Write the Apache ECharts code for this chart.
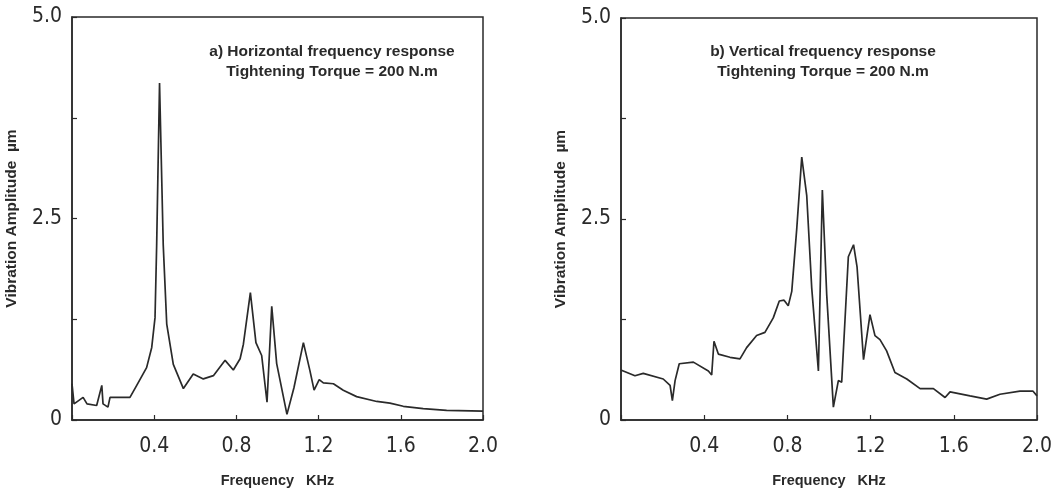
<!DOCTYPE html>
<html>
<head>
<meta charset="utf-8">
<script src="https://cdn.jsdelivr.net/npm/echarts@6/dist/echarts.min.js"></script>
<style>
html,body{margin:0;padding:0;background:#fff;}
#chart{width:1057px;height:493px;}
</style>
</head>
<body>
<div id="chart"></div>
<script>
// ---- data ----
var leftFreq = [0.0, 0.01, 0.054, 0.073, 0.12, 0.145, 0.151, 0.175, 0.185, 0.282, 0.315, 0.363, 0.388, 0.404, 0.412, 0.426, 0.444, 0.461, 0.493, 0.542, 0.590, 0.639, 0.688, 0.745, 0.785, 0.818, 0.834, 0.868, 0.895, 0.923, 0.949, 0.972, 0.996, 1.046, 1.080, 1.126, 1.158, 1.178, 1.203, 1.223, 1.272, 1.320, 1.385, 1.483, 1.547, 1.612, 1.709, 1.823, 2.0];
var leftAmp  = [0.45, 0.2, 0.28, 0.2, 0.18, 0.43, 0.2, 0.16, 0.28, 0.28, 0.43, 0.65, 0.9, 1.27, 2.17, 4.18, 2.17, 1.19, 0.69, 0.39, 0.57, 0.51, 0.55, 0.74, 0.62, 0.76, 0.94, 1.58, 0.96, 0.8, 0.22, 1.41, 0.7, 0.07, 0.4, 0.96, 0.61, 0.37, 0.50, 0.46, 0.45, 0.37, 0.29, 0.23, 0.21, 0.17, 0.14, 0.12, 0.11];
var rightFreq = [0.0, 0.011, 0.067, 0.107, 0.203, 0.236, 0.247, 0.26, 0.28, 0.348, 0.42, 0.436, 0.447, 0.468, 0.524, 0.572, 0.604, 0.652, 0.692, 0.732, 0.761, 0.784, 0.804, 0.821, 0.845, 0.869, 0.893, 0.917, 0.949, 0.968, 0.989, 1.021, 1.045, 1.061, 1.093, 1.118, 1.135, 1.166, 1.197, 1.221, 1.245, 1.277, 1.317, 1.374, 1.438, 1.502, 1.558, 1.582, 1.678, 1.758, 1.822, 1.918, 1.98, 2.0];
var rightAmp  = [0.62, 0.61, 0.55, 0.58, 0.51, 0.43, 0.24, 0.49, 0.70, 0.72, 0.61, 0.56, 0.98, 0.82, 0.78, 0.76, 0.90, 1.05, 1.09, 1.27, 1.48, 1.49, 1.42, 1.60, 2.38, 3.27, 2.79, 1.64, 0.61, 2.86, 1.56, 0.16, 0.49, 0.47, 2.03, 2.18, 1.9, 0.75, 1.31, 1.05, 1.00, 0.86, 0.59, 0.51, 0.39, 0.39, 0.28, 0.35, 0.30, 0.26, 0.32, 0.36, 0.36, 0.30];
var xTickValues = [0, 0.4, 0.8, 1.2, 1.6, 2.0];
var xTickLabels = ['', '0.4', '0.8', '1.2', '1.6', '2.0'];
var yTickValues = [0, 1.25, 2.5, 3.75, 5.0];
var yTickLabels = ['0', '', '2.5', '', '5.0'];
var titleLeft  = 'a) Horizontal frequency response\nTightening Torque = 200 N.m';
var titleRight = 'b) Vertical frequency response\nTightening Torque = 200 N.m';
var xName = 'Frequency   KHz';
var yName = 'Vibration Amplitude  \u00b5m';

function pairs(xs, ys){ return xs.map(function(x,i){ return [x, ys[i]]; }); }
function lookup(vals, labels){
  return function(v){
    for (var i=0;i<vals.length;i++){ if (Math.abs(vals[i]-v) < 1e-6) return labels[i]; }
    return '';
  };
}
var ink = '#2a2a2a';
var tickFont = {fontFamily: "'Liberation Sans Narrow','DejaVu Sans Condensed',sans-serif", fontSize: 21, color: ink};
var nameFont = "'Liberation Sans','DejaVu Sans',sans-serif";

function xAxis(idx){
  return {
    type:'value', gridIndex: idx, min:0, max:2, interval:0.4,
    name: xName, nameLocation:'middle', nameGap: 53,
    nameTextStyle:{fontFamily:nameFont, fontSize:14.5, fontWeight:'bold', color:ink},
    axisLine:{show:true, lineStyle:{color:ink, width:1.5}},
    axisTick:{show:true, inside:true, length:5, lineStyle:{color:ink, width:1.2}},
    axisLabel:Object.assign({margin:16, formatter: lookup(xTickValues, xTickLabels)}, tickFont),
    splitLine:{show:false}
  };
}
function yAxis(idx){
  return {
    type:'value', gridIndex: idx, min:0, max:5, interval:1.25,
    name: yName, nameLocation:'middle', nameGap: 52, nameRotate: 90,
    nameTextStyle:{fontFamily:nameFont, fontSize:15.5, fontWeight:'bold', color:ink},
    axisLine:{show:true, lineStyle:{color:ink, width:1.5}},
    axisTick:{show:true, inside:true, length:5, lineStyle:{color:ink, width:1.2}},
    axisLabel:Object.assign({margin:10, formatter: lookup(yTickValues, yTickLabels)}, tickFont),
    splitLine:{show:false}
  };
}
function series(idx, xs, ys){
  return {type:'line', xAxisIndex:idx, yAxisIndex:idx, data: pairs(xs, ys), symbol:'none', smooth:false,
          lineStyle:{color:ink, width:1.7}, silent:true, animation:false};
}

var chart = echarts.init(document.getElementById('chart'), null, {renderer:'canvas'});
chart.setOption({
  backgroundColor:'#ffffff',
  animation:false,
  title:[
    {text:titleLeft, left:327, top:37, textAlign:'center',
     textStyle:{fontFamily:nameFont, fontSize:15.5, fontWeight:'bold', color:ink, lineHeight:20, align:'center'}},
    {text:titleRight, left:818, top:37, textAlign:'center',
     textStyle:{fontFamily:nameFont, fontSize:15.5, fontWeight:'bold', color:ink, lineHeight:20, align:'center'}}
  ],
  grid:[
    {left:72, top:17, width:411, height:406, show:true, borderColor:ink, borderWidth:1.5, backgroundColor:'transparent'},
    {left:621, top:18, width:416, height:405, show:true, borderColor:ink, borderWidth:1.5, backgroundColor:'transparent'}
  ],
  xAxis:[xAxis(0), xAxis(1)],
  yAxis:[yAxis(0), yAxis(1)],
  series:[series(0, leftFreq, leftAmp), series(1, rightFreq, rightAmp)]
});
</script>
</body>
</html>
